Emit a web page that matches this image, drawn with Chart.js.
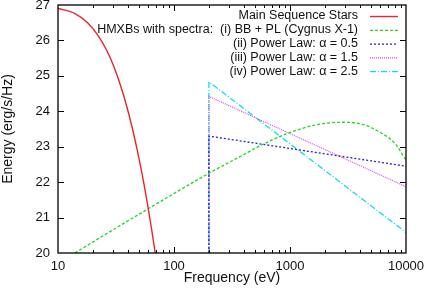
<!DOCTYPE html>
<html>
<head>
<meta charset="utf-8">
<script src="https://cdn.jsdelivr.net/npm/chart.js@4.4.0/dist/chart.umd.min.js"></script>
<style>
  html, body { margin: 0; padding: 0; background: #fff; }
</style>
</head>
<body>
<canvas id="myChart" width="433" height="294"></canvas>
<script>
// axis ranges / tick labels
const xMin = 10, xMax = 10000;
const yMin = 20, yMax = 27;
const xTickLabels = [10, 100, 1000, 10000];

// main sequence stars (red)
const msFreq   = [10, 14, 18, 22, 26, 30, 36, 43, 48, 54, 60, 65, 69, 72];
const msEnergy = [26.9, 26.76, 26.5, 26.15, 25.75, 25.3, 24.55, 23.62, 22.93, 22.1, 21.25, 20.55, 19.98, 19.55];

// (i) BB + PL, Cygnus X-1 (green)
const bbFreq   = [10, 14, 60, 200, 400, 570, 962, 1644, 2790, 4150, 6170, 8040, 10000];
const bbEnergy = [19.7, 20.0, 21.25, 22.25, 22.78, 23.05, 23.38, 23.61, 23.69, 23.64, 23.38, 23.09, 22.62];

// power laws, cut off below 200 eV
const plFreq  = [200, 200, 10000];
const pl05    = [20, 23.3, 22.45];
const pl15    = [20, 24.42, 21.87];
const pl25    = [20, 24.83, 20.58];

const legendText = [
  'Main Sequence Stars',
  'HMXBs with spectra:  (i) BB + PL (Cygnus X-1)',
  '(ii) Power Law: \u03b1 = 0.5',
  '(iii) Power Law: \u03b1 = 1.5',
  '(iv) Power Law: \u03b1 = 2.5'
];

const FONT = '"Liberation Sans", Arial, Helvetica, sans-serif';

function pts(xs, ys) {
  return xs.map((x, i) => ({x: x, y: ys[i]}));
}

const datasets = [
  {label: legendText[0], data: pts(msFreq, msEnergy), borderColor: '#e8262a', borderWidth: 1.4, borderDash: [], cubicInterpolationMode: 'monotone'},
  {label: legendText[1], data: pts(bbFreq, bbEnergy), borderColor: '#22d822', borderWidth: 1.3, borderDash: [3, 2], cubicInterpolationMode: 'monotone'},
  {label: legendText[2], data: pts(plFreq, pl05), borderColor: '#2626c8', borderWidth: 1.3, borderDash: [2, 2]},
  {label: legendText[3], data: pts(plFreq, pl15), borderColor: '#e040e0', borderWidth: 1.1, borderDash: [1, 1]},
  {label: legendText[4], data: pts(plFreq, pl25), borderColor: '#12dcec', borderWidth: 1.3, borderDash: [6, 2, 1, 2]}
];
datasets.forEach(d => { d.pointRadius = 0; d.fill = false; });

// inward ticks on all four sides + box, gnuplot style
const framePlugin = {
  id: 'frame',
  afterDatasetsDraw(chart) {
    const {ctx, chartArea: a, scales: {x, y}} = chart;
    ctx.save();
    ctx.strokeStyle = '#000';
    ctx.lineWidth = 1;
    ctx.beginPath();
    for (let v = yMin + 1; v < yMax; v++) {
      const py = Math.round(y.getPixelForValue(v)) + 0.5;
      ctx.moveTo(a.left, py); ctx.lineTo(a.left + 6, py);
      ctx.moveTo(a.right, py); ctx.lineTo(a.right - 6, py);
    }
    for (let d = xMin; d < xMax; d *= 10) {
      for (let m = 1; m < 10; m++) {
        if (m == 1 && d == xMin) continue;
        const px = Math.round(x.getPixelForValue(d * m)) + 0.5;
        const len = m == 1 ? 6 : 3;
        ctx.moveTo(px, a.bottom); ctx.lineTo(px, a.bottom - len);
        ctx.moveTo(px, a.top); ctx.lineTo(px, a.top + len);
      }
    }
    ctx.stroke();
    ctx.lineWidth = 1.3;
    ctx.strokeRect(a.left, a.top, a.right - a.left, a.bottom - a.top);
    ctx.restore();
  }
};

// right-aligned key with samples on the right, like gnuplot
const keyPlugin = {
  id: 'key',
  afterDraw(chart) {
    const {ctx, chartArea: a} = chart;
    ctx.save();
    ctx.font = '12.5px ' + FONT;
    ctx.fillStyle = '#111';
    ctx.textAlign = 'right';
    ctx.textBaseline = 'middle';
    const textRight = a.right - 48;
    const x0 = a.right - 36, x1 = a.right - 8;
    chart.data.datasets.forEach((ds, i) => {
      const yy = a.top + 11 + i * 13.8;
      ctx.fillText(ds.label, textRight, yy);
      ctx.beginPath();
      ctx.strokeStyle = ds.borderColor;
      ctx.lineWidth = ds.borderWidth;
      ctx.setLineDash(ds.borderDash);
      ctx.moveTo(x0, yy + 0.5); ctx.lineTo(x1, yy + 0.5);
      ctx.stroke();
    });
    ctx.restore();
  }
};

const ctx = document.getElementById('myChart').getContext('2d');
const myChart = new Chart(ctx, {
  type: 'line',
  data: {datasets: datasets},
  options: {
    responsive: false,
    animation: false,
    layout: {padding: {left: 0, right: 27, top: 5, bottom: 0}},
    plugins: {legend: {display: false}, tooltip: {enabled: false}},
    scales: {
      x: {
        type: 'logarithmic',
        min: xMin, max: xMax,
        grid: {display: false, drawTicks: false},
        border: {display: false},
        ticks: {
          autoSkip: false, maxRotation: 0, padding: 6,
          color: '#111', font: {family: FONT, size: 13},
          callback: (v) => xTickLabels.includes(v) ? String(v) : ''
        },
        title: {display: true, text: 'Frequency (eV)', color: '#111', font: {family: FONT, size: 14}, padding: {top: 0, bottom: 7}},
        afterFit: (s) => { s.height = 41; s.paddingLeft = 0; s.paddingRight = 0; }
      },
      y: {
        min: yMin, max: yMax,
        grid: {display: false, drawTicks: false},
        border: {display: false},
        ticks: {stepSize: 1, padding: 8, color: '#111', font: {family: FONT, size: 13}},
        title: {display: true, text: 'Energy (erg/s/Hz)', color: '#111', font: {family: FONT, size: 14}, padding: {top: 0, bottom: 2}},
        afterFit: (s) => { s.width = 58; s.paddingTop = 0; s.paddingBottom = 0; }
      }
    }
  },
  plugins: [framePlugin, keyPlugin]
});
</script>
</body>
</html>
